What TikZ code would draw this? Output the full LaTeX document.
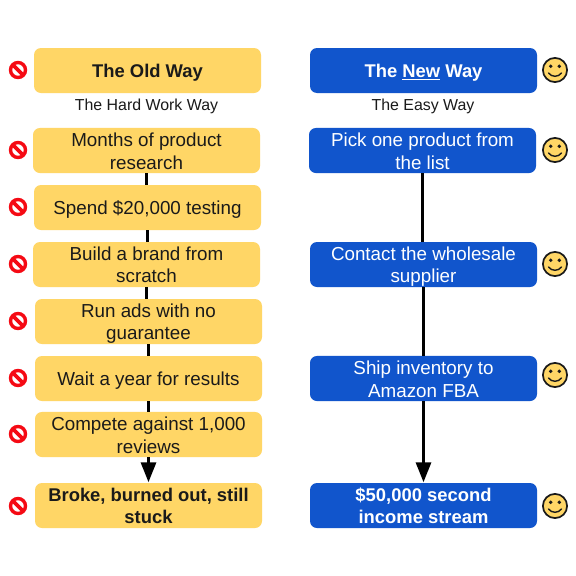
\documentclass[tikz,border=0pt]{standalone}
\usepackage{fontspec}
\setmainfont{Liberation Sans}
\usetikzlibrary{arrows.meta}
\definecolor{oldfill}{HTML}{FFD666}
\definecolor{newfill}{HTML}{1155CC}
\definecolor{nored}{HTML}{F50A14}
\definecolor{inkc}{HTML}{1A1A1A}
\newcommand\ls{\vrule height 18.2pt depth 3.8pt width 0pt\relax}
\tikzset{
  x=1pt,y=-1pt,
  stepbox/.style={rounded corners=7pt,minimum width=227pt,minimum height=45pt,inner sep=0pt,align=center},
  regtext/.style={font=\fontsize{18.8}{22}\selectfont},
  boldtext/.style={font=\fontsize{18.4}{22}\selectfont\bfseries},
  oldbox/.style={stepbox,fill=oldfill,text=inkc},
  newbox/.style={stepbox,fill=newfill,text=white},
  plain/.style={inner sep=0pt,anchor=base,text=inkc,font=\fontsize{15.9}{18}\selectfont},
  link/.style={line width=3pt,black},
  lastlink/.style={link,-{Triangle[length=20pt,width=15pt]},shorten >=0.5pt},
  nosign/.pic={
    \draw[nored,line width=3.4pt] (0,0) circle[radius=7.5];
    \draw[nored,line width=3.8pt] (-5.4,-5.4) -- (5.4,5.4);
  },
  smiley/.pic={
    \draw[fill=oldfill,draw=inkc,line width=1.7pt] (0,0) circle[radius=12.1];
    \fill[inkc] (-4.3,-3.7) circle[radius=1.9] (4.3,-3.7) circle[radius=1.9];
    \draw[inkc,line width=1.4pt,line cap=round] (-6.5,3) .. controls (-3,7.4) and (3,7.4) .. (6.5,3);
  }
}
\begin{document}
\begin{tikzpicture}
\useasboundingbox (0,0) rectangle (576,576);
\fill[white] (0,0) rectangle (576,576);
% left column
\node[oldbox,boldtext] (oh) at (147.5,70.5) {The Old Way\ls};
\node[plain] (ot) at (146.5,110.7) {The Hard Work Way};
\node[oldbox,regtext] (a1) at (146.5,150.5) {Months of product\ls\\research\ls};
\node[oldbox,regtext] (a2) at (147.5,207.5) {Spend \$20,000 testing\ls};
\node[oldbox,regtext] (a3) at (146.5,264.5) {Build a brand from\ls\\scratch\ls};
\node[oldbox,regtext] (a4) at (148.5,321.5) {Run ads with no\ls\\guarantee\ls};
\node[oldbox,regtext] (a5) at (148.5,378.5) {Wait a year for results\ls};
\node[oldbox,regtext] (a6) at (148.5,434.5) {Compete against 1,000\ls\\reviews\ls};
\node[oldbox,boldtext] (a7) at (148.5,505.5) {Broke, burned out, still\ls\\stuck\ls};
% right column
\node[newbox,boldtext] (nh) at (423.5,70.5) {The \underline{New} Way\ls};
\node[plain] (nt) at (423,110.7) {The Easy Way};
\node[newbox,regtext] (b1) at (422.5,150.5) {Pick one product from\ls\\the list\ls};
\node[newbox,regtext] (b2) at (423.5,264.5) {Contact the wholesale\ls\\supplier\ls};
\node[newbox,regtext] (b3) at (423.5,378.5) {Ship inventory to\ls\\Amazon FBA\ls};
\node[newbox,boldtext] (b4) at (423.5,505.5) {\$50,000 second\ls\\income stream\ls};
% connectors
\draw[link] (a1.south) -- (a1.south |- a2.north);
\draw[link] (a2.south) -- (a2.south |- a3.north);
\draw[link] (a3.south) -- (a3.south |- a4.north);
\draw[link] (a4.south) -- (a4.south |- a5.north);
\draw[link] (a5.south) -- (a5.south |- a6.north);
\draw[lastlink] (a6.south) -- (a6.south |- a7.north);
\draw[link] (b1.south) -- (b1.south |- b2.north);
\draw[link] (b2.south) -- (b2.south |- b3.north);
\draw[lastlink] (b3.south) -- (b3.south |- b4.north);
% icons
\foreach \yy in {70,150,207,264,321,378,434,506} \pic at (18,\yy) {nosign};
\foreach \yy in {70,150,264,375,506} \pic at (555,\yy) {smiley};
\end{tikzpicture}
\end{document}
